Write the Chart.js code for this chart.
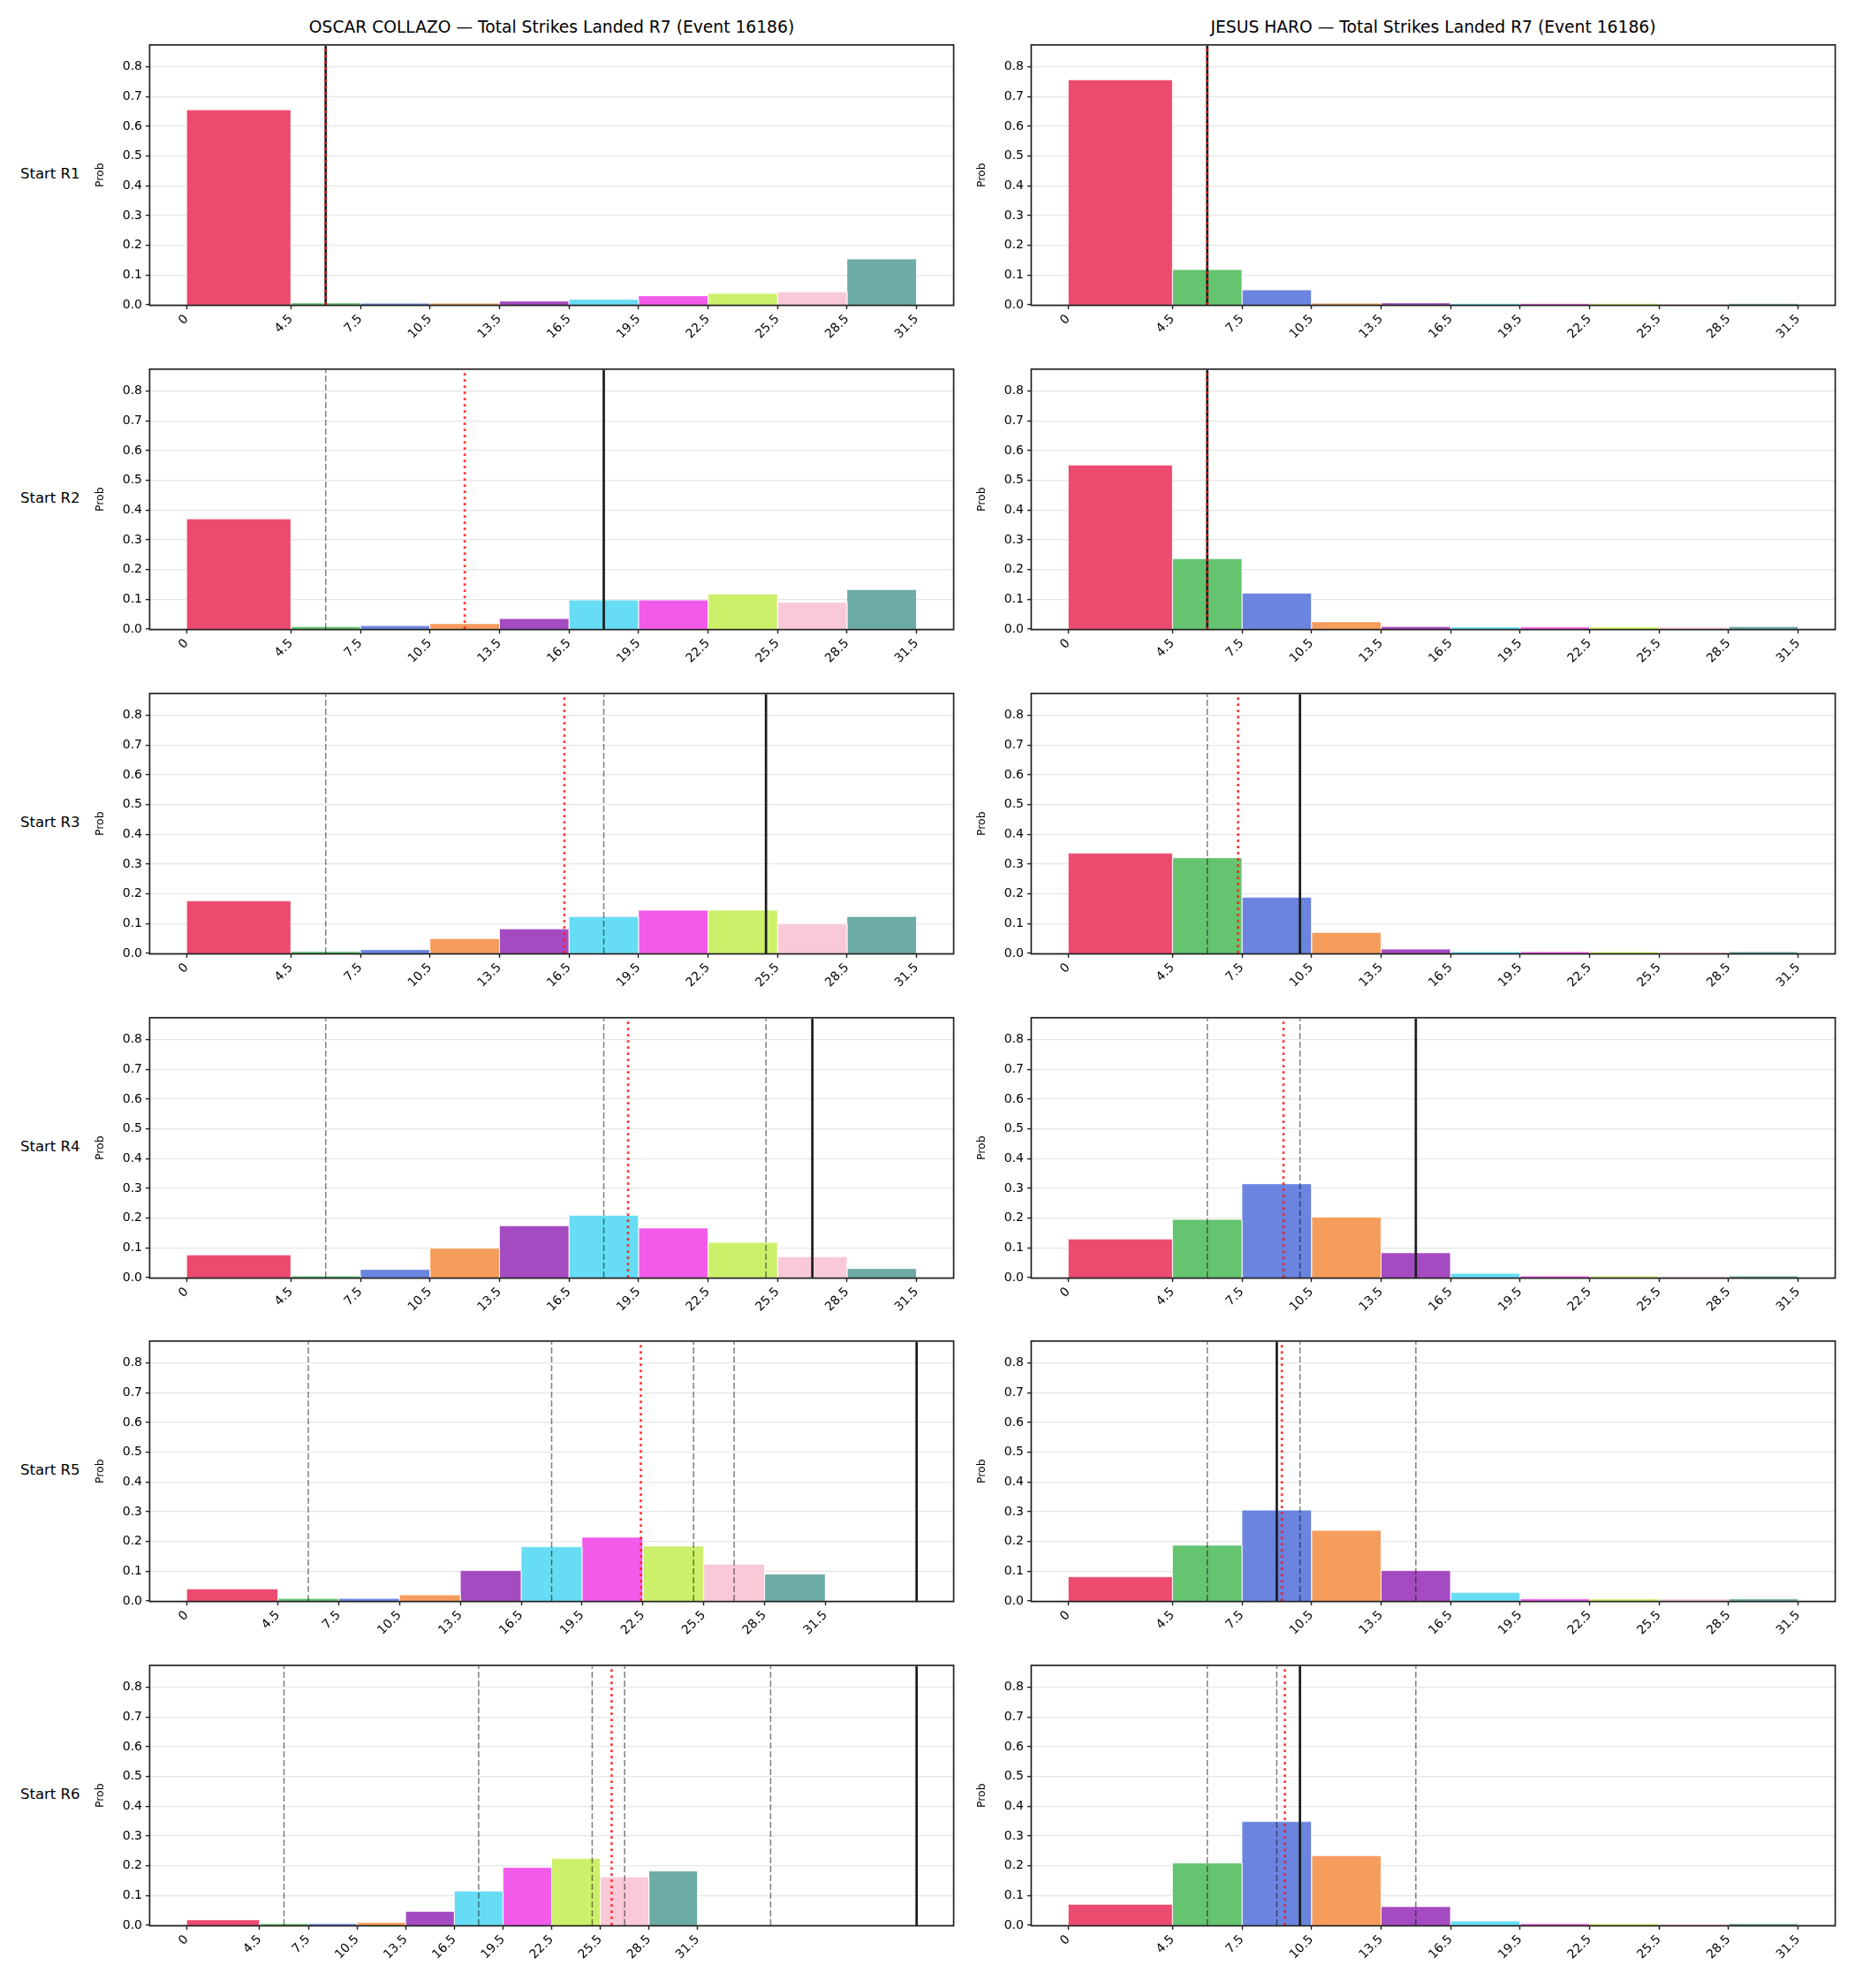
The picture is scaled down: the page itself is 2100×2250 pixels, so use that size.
<!DOCTYPE html>
<html>
<head>
<meta charset="utf-8">
<title>Total Strikes Landed R7 (Event 16186)</title>
<script src="https://cdn.jsdelivr.net/npm/chart.js@4.4.1/dist/chart.umd.min.js"></script>
<style>
  body { margin: 0; background: #fff; }
  #fig { position: relative; width: 2100px; height: 2250px; font-family: "DejaVu Sans", sans-serif; color: #000; }
  .panel { position: absolute; }
  .coltitle { position: absolute; font-size: 18.7px; line-height: 22px; text-align: center; white-space: nowrap; }
  .rowlabel { position: absolute; font-size: 16.5px; line-height: 20px; white-space: nowrap; }
</style>
</head>
<body>
<div id="fig"></div>
<script>
// ---- values ----
const binEdges = [0, 4.5, 7.5, 10.5, 13.5, 16.5, 19.5, 22.5, 25.5, 28.5, 31.5];
const xTicks = [0, 4.5, 7.5, 10.5, 13.5, 16.5, 19.5, 22.5, 25.5, 28.5, 31.5];
const yTicks = [0, 0.1, 0.2, 0.3, 0.4, 0.5, 0.6, 0.7, 0.8];
const yMax = 0.872;
const binColors = ['#ec4a6f', '#64c46f', '#6a84e0', '#f69c5c', '#a54bc2',
                   '#67dcf5', '#f25bea', '#cdf06a', '#f9c9d8', '#6daba5'];
const rowLabels = ['Start R1', 'Start R2', 'Start R3', 'Start R4', 'Start R5', 'Start R6'];
const fighters = ['OSCAR COLLAZO', 'JESUS HARO'];
const titleSuffix = ' \u2014 Total Strikes Landed R7 (Event 16186)';

// probability per bin, one row per start round
const collazoProbs = [
  [0.655, 0.006, 0.005, 0.005, 0.012, 0.018, 0.030, 0.038, 0.043, 0.154],
  [0.370, 0.008, 0.011, 0.018, 0.035, 0.097, 0.097, 0.117, 0.090, 0.132],
  [0.176, 0.006, 0.012, 0.049, 0.082, 0.123, 0.145, 0.145, 0.099, 0.123],
  [0.076, 0.005, 0.027, 0.098, 0.174, 0.209, 0.166, 0.118, 0.070, 0.030],
  [0.040, 0.008, 0.008, 0.020, 0.102, 0.182, 0.214, 0.184, 0.123, 0.090],
  [0.018, 0.005, 0.005, 0.009, 0.046, 0.114, 0.194, 0.224, 0.162, 0.182]
];
const haroProbs = [
  [0.756, 0.118, 0.050, 0.005, 0.006, 0.004, 0.004, 0.004, 0.003, 0.004],
  [0.551, 0.236, 0.120, 0.024, 0.008, 0.007, 0.007, 0.007, 0.006, 0.008],
  [0.336, 0.321, 0.188, 0.070, 0.014, 0.005, 0.005, 0.005, 0.004, 0.005],
  [0.129, 0.195, 0.315, 0.203, 0.083, 0.014, 0.005, 0.005, 0.004, 0.005],
  [0.081, 0.187, 0.305, 0.237, 0.102, 0.028, 0.007, 0.007, 0.007, 0.007],
  [0.070, 0.209, 0.348, 0.233, 0.062, 0.014, 0.005, 0.005, 0.004, 0.005]
];

// solid black line, red dotted line, grey dashed lines
const collazoSolid = [6, 18, 25, 27, 36, 45];
const collazoDotted = [6, 12, 16.3, 19.05, 22.4, 26.2];
const collazoDashed = [[], [6], [6, 18], [6, 18, 25], [6, 18, 25, 27], [6, 18, 25, 27, 36]];
const haroSolid = [6, 6, 10, 15, 9, 10];
const haroDotted = [6, 6, 7.33, 9.29, 9.22, 9.35];
const haroDashed = [[], [6], [6], [6, 10], [6, 10, 15], [6, 10, 15, 9]];

// ---- layout (px) ----
const colLeft = [170, 1168];
const colWidth = 909;
const rowTop = [49, 416, 783, 1150, 1516, 1883];
const rowHeight = 296;
const padLeft = 70, padTop = 10, padRight = 12, padBottom = 60;
const tickFont = {family: 'DejaVu Sans', size: 14};

const fig = document.getElementById('fig');

// matplotlib style box round the axes (kept just outside the plot so thin bars stay visible)
const framePlugin = {
  id: 'frame',
  afterDraw(chart) {
    const a = chart.chartArea;
    const ctx = chart.ctx;
    ctx.save();
    ctx.strokeStyle = '#222';
    ctx.lineWidth = 1.7;
    ctx.strokeRect(a.left - 0.6, a.top - 0.6, a.right - a.left + 1.2, a.bottom - a.top + 1.2);
    ctx.restore();
  }
};

function vline(x, color, width, dash, order) {
  return {
    data: [{x: x, y: 0}, {x: x, y: yMax}],
    borderColor: color,
    borderWidth: width,
    borderDash: dash,
    pointRadius: 0,
    fill: false,
    order: order
  };
}

function makePanel(col, row) {
  const probs = col === 0 ? collazoProbs[row] : haroProbs[row];
  const solid = col === 0 ? collazoSolid[row] : haroSolid[row];
  const dotted = col === 0 ? collazoDotted[row] : haroDotted[row];
  const dashed = col === 0 ? collazoDashed[row] : haroDashed[row];

  // x range: data plus lines, 5% margins like matplotlib
  const hi = Math.max(binEdges[binEdges.length - 1], solid, dotted, ...dashed);
  const span = hi - 0;

  const datasets = [];
  // bars: one filled outline per bin
  probs.forEach((p, i) => {
    datasets.push({
      data: [{x: binEdges[i], y: 0}, {x: binEdges[i], y: p},
             {x: binEdges[i + 1], y: p}, {x: binEdges[i + 1], y: 0}],
      backgroundColor: binColors[i],
      borderColor: 'rgba(255,255,255,0.75)',
      borderWidth: 0.6,
      pointRadius: 0,
      fill: 'origin',
      order: 10
    });
  });
  dashed.forEach(v => datasets.push(vline(v, 'rgba(0,0,0,0.5)', 1.5, [7, 3], 5)));
  datasets.push(vline(solid, '#1c1c1c', 2.7, [], 3));
  datasets.push(vline(dotted, 'rgba(255,20,20,0.85)', 2.7, [2.7, 4.3], 1));

  const cv = document.createElement('canvas');
  const w = colWidth + padLeft + padRight;
  const h = rowHeight + padTop + padBottom;
  cv.width = w; cv.height = h;
  cv.className = 'panel';
  cv.style.left = (colLeft[col] - padLeft) + 'px';
  cv.style.top = (rowTop[row] - padTop) + 'px';
  cv.style.width = w + 'px';
  cv.style.height = h + 'px';
  fig.appendChild(cv);

  new Chart(cv.getContext('2d'), {
    type: 'line',
    data: {datasets: datasets},
    options: {
      responsive: false,
      animation: false,
      events: [],
      layout: {padding: {top: padTop, right: padRight, left: 0, bottom: 0}},
      plugins: {legend: {display: false}, tooltip: {enabled: false}, title: {display: false}},
      elements: {line: {tension: 0}},
      scales: {
        x: {
          type: 'linear',
          min: 0 - 0.05 * span,
          max: hi + 0.05 * span,
          afterBuildTicks: axis => { axis.ticks = xTicks.map(v => ({value: v})); },
          afterFit: axis => { axis.height = padBottom; },
          border: {display: false},
          grid: {drawOnChartArea: false, tickColor: '#222', tickLength: 5, tickWidth: 1.4},
          ticks: {
            autoSkip: false,
            minRotation: 45,
            maxRotation: 45,
            padding: 3,
            color: '#000',
            font: tickFont,
            callback: v => (v === 0 ? '0' : v.toFixed(1))
          }
        },
        y: {
          type: 'linear',
          min: 0,
          max: yMax,
          afterBuildTicks: axis => { axis.ticks = yTicks.map(v => ({value: v})); },
          afterFit: axis => { axis.width = padLeft; },
          border: {display: false},
          grid: {color: '#e6e6e6', lineWidth: 1.2, tickColor: '#222', tickLength: 5, tickWidth: 1.4},
          ticks: {
            padding: 4,
            color: '#000',
            font: tickFont,
            callback: v => v.toFixed(1)
          },
          title: {
            display: true,
            text: 'Prob',
            color: '#000',
            font: {family: 'DejaVu Sans', size: 12.5},
            padding: {top: 6, bottom: 0}
          }
        }
      }
    },
    plugins: [framePlugin]
  });
}

// column titles
fighters.forEach((name, col) => {
  const t = document.createElement('div');
  t.className = 'coltitle';
  t.textContent = name + titleSuffix;
  t.style.left = colLeft[col] + 'px';
  t.style.width = colWidth + 'px';
  t.style.top = '20px';
  fig.appendChild(t);
});

// row labels
rowLabels.forEach((lab, row) => {
  const d = document.createElement('div');
  d.className = 'rowlabel';
  d.textContent = lab;
  d.style.left = '23px';
  d.style.top = (rowTop[row] + rowHeight / 2 - 10) + 'px';
  fig.appendChild(d);
});

for (let row = 0; row < rowLabels.length; row++) {
  makePanel(0, row);
  makePanel(1, row);
}
</script>
</body>
</html>
